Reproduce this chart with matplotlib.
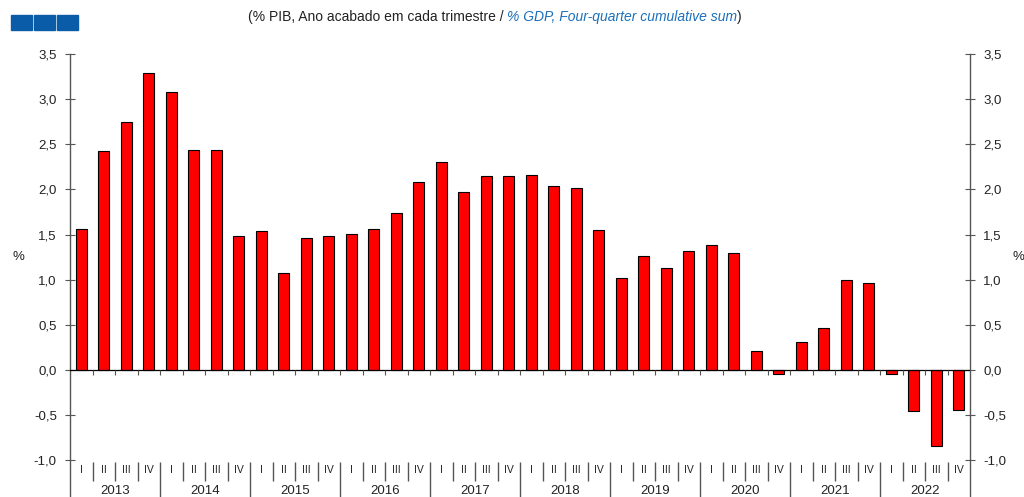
import numpy as np
import matplotlib.pyplot as plt
from matplotlib.patches import Rectangle
from matplotlib.ticker import FuncFormatter

plt.rcParams['font.family'] = ['Liberation Sans', 'DejaVu Sans']

years = ['2013', '2014', '2015', '2016', '2017', '2018', '2019', '2020', '2021', '2022']
quarters = ['I', 'II', 'III', 'IV']
values = [1.56, 2.42, 2.75, 3.29,
          3.08, 2.44, 2.44, 1.48,
          1.54, 1.07, 1.46, 1.48,
          1.51, 1.56, 1.74, 2.08,
          2.30, 1.97, 2.15, 2.15,
          2.16, 2.04, 2.02, 1.55,
          1.02, 1.26, 1.13, 1.32,
          1.38, 1.30, 0.21, -0.05,
          0.31, 0.46, 1.00, 0.96,
          -0.05, -0.46, -0.84, -0.44]

GREY = '#555555'
TXT = '#222222'

fig = plt.figure(figsize=(10.24, 4.97), dpi=100)
ax = fig.add_axes([70 / 1024, 0, 900 / 1024, 1 - 54 / 497])

n = len(values)
x = np.arange(n)
ax.bar(x, values, width=0.5, color='#ff0000', edgecolor='black', linewidth=0.8, zorder=3)

ymin = -1.408
ax.set_ylim(ymin, 3.5)
ax.set_xlim(-0.5, n - 0.5)
ax.set_yticks(np.arange(-1.0, 3.51, 0.5))
ax.yaxis.set_major_formatter(FuncFormatter(lambda v, p: f'{v:.1f}'.replace('.', ',')))
ax.tick_params(axis='y', which='both', direction='inout', length=7, width=0.8,
               color=GREY, labelsize=9.5, labelcolor=TXT, left=True, right=True,
               labelleft=True, labelright=True, pad=6)
ax.tick_params(axis='x', bottom=False, labelbottom=False)
for s in ['top', 'bottom']:
    ax.spines[s].set_visible(False)
for s in ['left', 'right']:
    ax.spines[s].set_color(GREY)
    ax.spines[s].set_linewidth(1.0)

# zero line with small ticks at quarter boundaries
ax.axhline(0, color='black', linewidth=0.9, zorder=4)
bounds = np.arange(1, n) - 0.5
ax.vlines(bounds, -0.06, 0, color=GREY, linewidth=0.8, zorder=4)

# category axis under the plot
for b in range(1, n):
    xb = b - 0.5
    if b % 4 == 0:
        ax.vlines(xb, -1.02, ymin, color=GREY, linewidth=1.0)
    else:
        ax.vlines(xb, -1.02, -1.23, color=GREY, linewidth=1.0)
for i in range(n):
    ax.text(i, -1.11, quarters[i % 4], ha='center', va='center', fontsize=7.5, color=TXT)
for j, yr in enumerate(years):
    ax.text(4 * j + 1.5, -1.345, yr, ha='center', va='center', fontsize=9.5, color=TXT)

# % labels
fig.text(18 / 1024, 1 - 257 / 497, '%', ha='center', va='center', fontsize=9.5, color=TXT)
fig.text(1018 / 1024, 1 - 257 / 497, '%', ha='center', va='center', fontsize=9.5, color=TXT)

# title pieces
fig.canvas.draw()
r = fig.canvas.get_renderer()
parts = [('(% PIB, Ano acabado em cada trimestre / ', TXT, 'normal'),
         ('% GDP, Four-quarter cumulative sum', '#1a6fba', 'italic'),
         (')', TXT, 'normal')]
texts = []
for s, c, st in parts:
    texts.append(fig.text(0, 1 - 17 / 497, s, color=c, style=st, fontsize=10,
                          ha='left', va='center'))
widths = [t.get_window_extent(r).width for t in texts]
start = 495 - sum(widths) / 2
for t, w in zip(texts, widths):
    t.set_x(start / 1024)
    start += w

# blue squares at top left
for k in range(3):
    fig.add_artist(Rectangle(((11 + k * 23) / 1024, 1 - 30 / 497), 21 / 1024, 15 / 497,
                             transform=fig.transFigure, color='#0b5ca8'))

fig.savefig('out.png', dpi=100)
